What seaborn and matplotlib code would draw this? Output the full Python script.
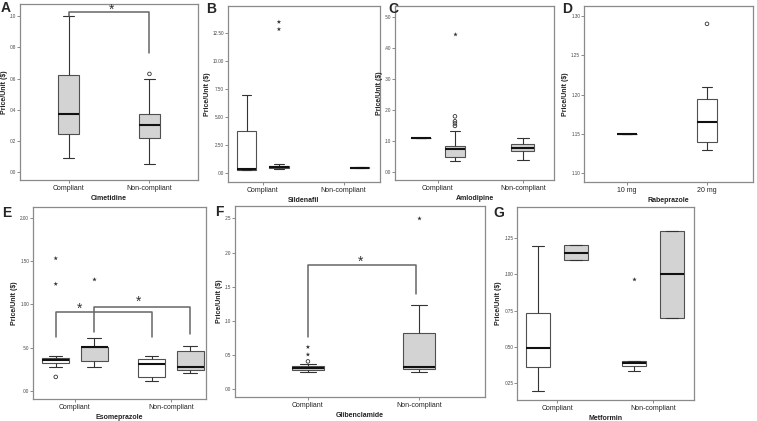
import matplotlib
matplotlib.use("Agg")
import matplotlib.pyplot as plt
import pandas as pd
import seaborn as sns
from matplotlib.ticker import FuncFormatter, FixedLocator

# box summaries: [low whisker, Q1, median, Q3, high whisker]
# white boxes = "Generic", grey boxes = "Brand"

# A - Cimetidine
cim_groups = ["Compliant", "Non-compliant"]
cim_kinds = ["Brand", "Brand"]
cim_stats = [[0.009, 0.024, 0.037, 0.062, 0.100],
             [0.005, 0.022, 0.030, 0.037, 0.060]]
cim_circ = (["Non-compliant"], ["Brand"], [0.063])

# B - Sildenafil
sil_groups = ["Compliant", "Compliant", "Non-compliant"]
sil_kinds = ["Generic", "Brand", "Brand"]
sil_stats = [[0.24, 0.30, 0.39, 3.72, 7.00],
             [0.33, 0.42, 0.54, 0.63, 0.77],
             [0.42, 0.44, 0.46, 0.50, 0.52]]
sil_star = (["Compliant", "Compliant"], ["Brand", "Brand"], [13.48, 12.83])

# C - Amlodipine
aml_groups = ["Compliant", "Compliant"]
aml_kinds = ["Generic", "Brand"]
aml_stats = [[0.111, 0.111, 0.111, 0.111, 0.111],
             [0.035, 0.050, 0.074, 0.085, 0.131]]
aml_nc_stats = [[0.038, 0.068, 0.076, 0.089, 0.111]]
aml_circ = (["Compliant"] * 4, ["Brand"] * 4, [0.180, 0.164, 0.157, 0.149])
aml_star = (["Compliant"], ["Brand"], [0.445])

# D - Rabeprazole
rab_groups = ["10 mg", "20 mg"]
rab_kinds = ["Generic", "Generic"]
rab_stats = [[1.15, 1.15, 1.15, 1.15, 1.15],
             [1.13, 1.14, 1.165, 1.195, 1.21]]
rab_circ = (["20 mg"], ["Generic"], [1.29])

# E - Esomeprazole
eso_groups = ["Compliant", "Compliant", "Non-compliant", "Non-compliant"]
eso_kinds = ["Generic", "Brand", "Generic", "Brand"]
eso_stats = [[0.277, 0.323, 0.354, 0.380, 0.400],
             [0.277, 0.346, 0.505, 0.512, 0.615],
             [0.115, 0.158, 0.308, 0.373, 0.404],
             [0.208, 0.235, 0.277, 0.460, 0.520]]
eso_circ = (["Compliant"], ["Generic"], [0.16])
eso_star = (["Compliant", "Compliant", "Compliant"], ["Generic", "Generic", "Brand"], [1.535, 1.238, 1.29])

# F - Glibenclamide
gli_groups = ["Compliant", "Non-compliant"]
gli_kinds = ["Brand", "Brand"]
gli_stats = [[0.026, 0.028, 0.031, 0.034, 0.037],
             [0.026, 0.030, 0.033, 0.083, 0.124]]
gli_circ = (["Compliant"], ["Brand"], [0.041])
gli_star = (["Compliant", "Compliant", "Non-compliant"], ["Brand", "Brand", "Brand"], [0.051, 0.062, 0.251])

# G - Metformin
met_groups = ["Compliant", "Compliant", "Non-compliant", "Non-compliant"]
met_kinds = ["Generic", "Brand", "Generic", "Brand"]
met_stats = [[0.0197, 0.0359, 0.0491, 0.0731, 0.1197],
             [0.110, 0.110, 0.115, 0.120, 0.120],
             [0.0329, 0.0368, 0.039, 0.040, 0.040],
             [0.070, 0.070, 0.100, 0.130, 0.130]]
met_star = (["Non-compliant"], ["Generic"], [0.097])

comp = ["Compliant", "Non-compliant"]
WHITE, GREY, EDGE = "#ffffff", "#d3d3d3", "#505050"
pal = {"Generic": WHITE, "Brand": GREY}
dark = {"Generic": "#333333", "Brand": "#333333"}

sns.set_theme(style="ticks")
plt.rcParams["font.family"] = ["Liberation Sans", "DejaVu Sans"]

W, H = 757, 421
fig = plt.figure(figsize=(W / 100, H / 100), dpi=100)


def axes_px(x0, y0, x1, y1):
    return fig.add_axes([x0 / W, 1 - y1 / H, (x1 - x0) / W, (y1 - y0) / H])


def box_frame(groups, kinds, stats):
    rows = [(g, k, v) for g, k, s in zip(groups, kinds, stats) for v in s]
    return pd.DataFrame(rows, columns=["group", "kind", "price"])


def pts_frame(p):
    return pd.DataFrame({"group": p[0], "kind": p[1], "price": p[2]})


def boxes(ax, df, order, hue_order, width, gap=0.0):
    sns.boxplot(data=df, x="group", y="price", hue="kind", order=order, hue_order=hue_order,
                palette=pal, saturation=1, width=width, gap=gap, dodge=True,
                whis=(0, 100), showfliers=False, linecolor=EDGE, linewidth=0.8,
                medianprops=dict(color="#111111", linewidth=1.5),
                whiskerprops=dict(color="#333333", linewidth=0.8),
                capprops=dict(color="#333333", linewidth=0.8),
                legend=False, ax=ax)


def outliers(ax, p, order, hue_order, kind):
    n = len(ax.collections)
    sns.stripplot(data=pts_frame(p), x="group", y="price", hue="kind", order=order,
                  hue_order=hue_order, dodge=True, jitter=False, palette=dark,
                  marker="o" if kind == "circ" else "*",
                  size=2.6 if kind == "circ" else 3.4, linewidth=0.6 if kind == "circ" else 0,
                  edgecolor="#333333", legend=False, ax=ax)
    if kind == "circ":
        for c in ax.collections[n:]:
            c.set_facecolor("none")
            c.set_edgecolor("#333333")


def bracket(ax, x1, x2, y1, y2, top, sx, sy):
    ax.plot([x1, x1, x2, x2], [y1, top, top, y2], color="#666666", lw=1.1)
    ax.text(sx, sy, "*", ha="center", va="center", fontsize=10, color="#333333")


def style(ax, xlim, ylim, ticks, dec, xlabel):
    ax.set_xlim(*xlim)
    ax.set_ylim(*ylim)
    ax.yaxis.set_major_locator(FixedLocator(ticks))

    def fmt(v, p):
        s = f"{v:.{dec}f}"
        return s[1:] if s.startswith("0.") else s
    ax.yaxis.set_major_formatter(FuncFormatter(fmt))
    for sp in ax.spines.values():
        sp.set_visible(True)
        sp.set_color("#8a8a8a")
        sp.set_linewidth(0.9)
    ax.tick_params(axis="y", labelsize=3.3, length=2, width=0.6, color="#777777", pad=0.8, labelcolor="#444444")
    ax.tick_params(axis="x", labelsize=5, length=2, width=0.6, color="#777777", pad=1.5, labelcolor="#222222")
    ax.set_xlabel(xlabel, fontsize=5, fontweight="bold", labelpad=2, color="#222222")
    ax.set_ylabel("Price/Unit ($)", fontsize=5, fontweight="bold", labelpad=1.5, color="#222222")


# A
ax = axes_px(20, 4, 198, 180)
boxes(ax, box_frame(cim_groups, cim_kinds, cim_stats), comp, ["Brand"], 0.25)
outliers(ax, cim_circ, comp, ["Brand"], "circ")
bracket(ax, 0, 1, 0.100, 0.0765, 0.103, 0.53, 0.1045)
style(ax, (-0.6, 1.6), (-0.0053, 0.108), [0, 0.02, 0.04, 0.06, 0.08, 0.10], 2, "Cimetidine")

# B
ax = axes_px(228, 6, 380, 182)
boxes(ax, box_frame(sil_groups, sil_kinds, sil_stats), comp, ["Generic", "Brand"], 0.8, 0.4)
outliers(ax, sil_star, comp, ["Generic", "Brand"], "star")
style(ax, (-0.43, 1.45), (-0.8, 14.9), [0, 2.5, 5, 7.5, 10, 12.5], 2, "Sildenafil")

# C
ax = axes_px(395, 6, 554, 180)
boxes(ax, box_frame(aml_groups, aml_kinds, aml_stats), comp, ["Generic", "Brand"], 0.8, 0.4)
boxes(ax, box_frame(["Non-compliant"], ["Brand"], aml_nc_stats), comp, ["Brand"], 0.27)
outliers(ax, aml_circ, comp, ["Generic", "Brand"], "circ")
outliers(ax, aml_star, comp, ["Generic", "Brand"], "star")
style(ax, (-0.505, 1.365), (-0.026, 0.537), [0, 0.1, 0.2, 0.3, 0.4, 0.5], 2, "Amlodipine")

# D
ax = axes_px(584, 6, 753, 182)
boxes(ax, box_frame(rab_groups, rab_kinds, rab_stats), rab_groups, ["Generic"], 0.25)
outliers(ax, rab_circ, rab_groups, ["Generic"], "circ")
style(ax, (-0.537, 1.575), (1.089, 1.3127), [1.10, 1.15, 1.20, 1.25, 1.30], 2, "Rabeprazole")

# E
ax = axes_px(33, 207, 206, 399)
boxes(ax, box_frame(eso_groups, eso_kinds, eso_stats), comp, ["Generic", "Brand"], 0.8, 0.3)
outliers(ax, eso_circ, comp, ["Generic", "Brand"], "circ")
outliers(ax, eso_star, comp, ["Generic", "Brand"], "star")
bracket(ax, -0.2, 0.8, 0.62, 0.62, 0.912, 0.05, 0.95)
bracket(ax, 0.2, 1.2, 0.68, 0.66, 0.969, 0.66, 1.03)
style(ax, (-0.437, 1.365), (-0.096, 2.13), [0, 0.5, 1.0, 1.5, 2.0], 2, "Esomeprazole")

# F
ax = axes_px(235, 206, 485, 397)
boxes(ax, box_frame(gli_groups, gli_kinds, gli_stats), comp, ["Brand"], 0.29)
outliers(ax, gli_circ, comp, ["Brand"], "circ")
outliers(ax, gli_star, comp, ["Brand"], "star")
bracket(ax, 0, 0.97, 0.076, 0.139, 0.182, 0.47, 0.186)
style(ax, (-0.657, 1.595), (-0.011, 0.268), [0, 0.05, 0.10, 0.15, 0.20, 0.25], 2, "Glibenclamide")

# G
ax = axes_px(517, 207, 694, 400)
boxes(ax, box_frame(met_groups, met_kinds, met_stats), comp, ["Generic", "Brand"], 0.8, 0.38)
outliers(ax, met_star, comp, ["Generic", "Brand"], "star")
style(ax, (-0.417, 1.427), (0.0132, 0.1465), [0.025, 0.05, 0.075, 0.10, 0.125], 3, "Metformin")

for letter, x, y in [("A", 1, 1), ("B", 206, 2), ("C", 388, 2), ("D", 562, 2),
                     ("E", 2, 206), ("F", 215, 205), ("G", 493, 206)]:
    fig.text(x / W, 1 - y / H, letter, fontsize=10, fontweight="bold", va="top", ha="left")

fig.savefig("out.png", dpi=100)
